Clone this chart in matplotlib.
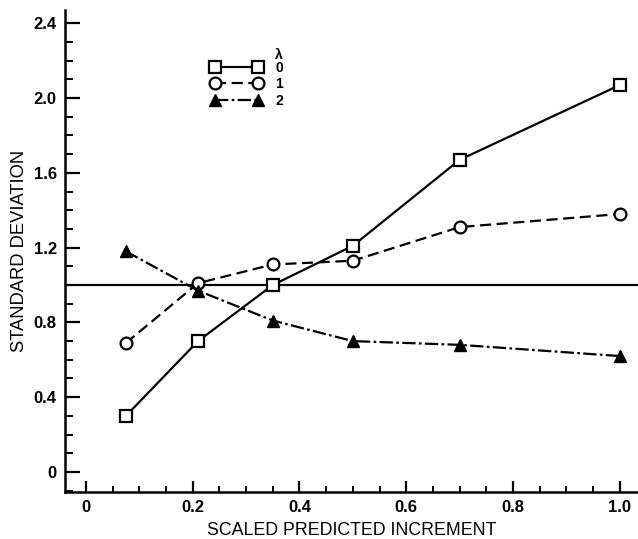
import numpy as np
import matplotlib
matplotlib.use("Agg")
import matplotlib.pyplot as plt
from matplotlib.ticker import MultipleLocator

# Datos
x = [0.075, 0.21, 0.35, 0.5, 0.7, 1.0]
lam0 = [0.30, 0.70, 1.00, 1.21, 1.67, 2.07]
lam1 = [0.69, 1.01, 1.11, 1.13, 1.31, 1.38]
lam2 = [1.18, 0.97, 0.81, 0.70, 0.68, 0.62]
etiquetas = ["0", "1", "2"]
x_ticks = [0, 0.2, 0.4, 0.6, 0.8, 1.0]
x_ticklabels = ["0", "0.2", "0.4", "0.6", "0.8", "1.0"]
y_ticks = [0, 0.4, 0.8, 1.2, 1.6, 2.0, 2.4]
y_ticklabels = ["0", "0.4", "0.8", "1.2", "1.6", "2.0", "2.4"]
referencia = 1.0

plt.rcParams["font.family"] = ["Liberation Sans", "DejaVu Sans"]

fig = plt.figure(figsize=(6.38, 5.39), dpi=100)
ax = fig.add_axes([0.102, 0.088, 0.898, 0.894])

lw = 1.6
ms = 8.5
ax.axhline(referencia, color="black", lw=lw)
ax.plot(x, lam0, color="black", lw=lw, ls="-", marker="s", ms=ms,
        mfc="white", mec="black", mew=1.6, label=etiquetas[0])
ax.plot(x, lam1, color="black", lw=lw, ls=(0, (5, 2.5)), marker="o", ms=ms,
        mfc="white", mec="black", mew=1.6, label=etiquetas[1])
ax.plot(x, lam2, color="black", lw=lw, ls=(0, (6, 1.5, 1.2, 1.5)), marker="^",
        ms=ms, mfc="black", mec="black", label=etiquetas[2])

ax.set_xlim(-0.039, 1.034)
ax.set_ylim(-0.105, 2.473)
ax.set_xticks(x_ticks)
ax.set_xticklabels(x_ticklabels)
ax.set_yticks(y_ticks)
ax.set_yticklabels(y_ticklabels)
ax.xaxis.set_minor_locator(MultipleLocator(0.05))
ax.yaxis.set_minor_locator(MultipleLocator(0.1))
ax.tick_params(which="major", direction="in", width=1.6, labelsize=12, pad=6)
ax.tick_params(axis="x", which="major", length=8)
ax.tick_params(axis="y", which="major", length=11)
ax.tick_params(axis="x", which="minor", direction="in", length=4, width=1.4)
ax.tick_params(axis="y", which="minor", direction="in", length=6, width=1.4)
for lab in ax.get_xticklabels() + ax.get_yticklabels():
    lab.set_fontweight("bold")

for s in ["top", "right"]:
    ax.spines[s].set_visible(False)
for s in ["left", "bottom"]:
    ax.spines[s].set_linewidth(1.8)

ax.set_xlabel("SCALED PREDICTED INCREMENT", fontsize=12.8, labelpad=5)
ax.set_ylabel("STANDARD DEVIATION", fontsize=13.2, labelpad=4)

leg = ax.legend(loc="upper left", bbox_to_anchor=(0.243, 0.935), frameon=False,
                numpoints=2, handlelength=3.7, handletextpad=0.9,
                labelspacing=0.18, prop={"size": 10, "weight": "bold"},
                title="λ", title_fontproperties={"size": 10, "weight": "bold"},
                borderpad=0)
leg._legend_box.align = "right"
leg._legend_box.sep = -1

fig.savefig("out.png", dpi=100)
